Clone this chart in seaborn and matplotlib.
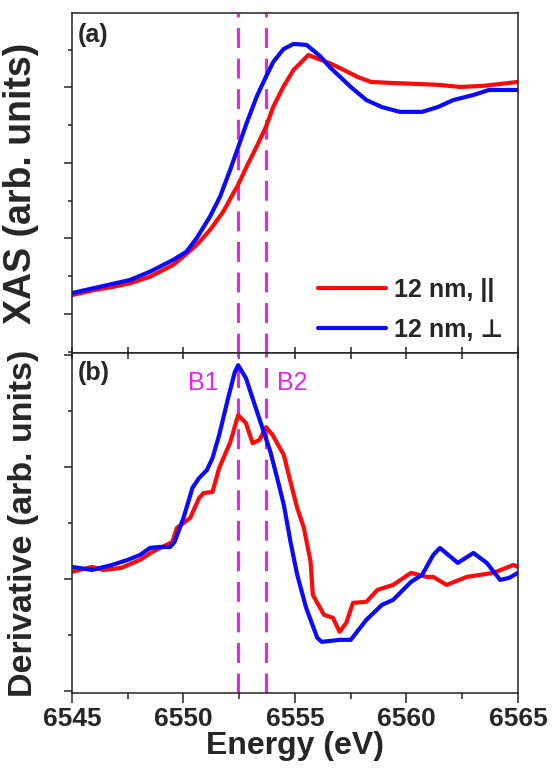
import matplotlib
matplotlib.use("Agg")
import matplotlib.pyplot as plt
from matplotlib.ticker import MultipleLocator, NullFormatter
import pandas as pd
import seaborn as sns

# ---------------- data ----------------
energy_xas_par = [6545, 6546.0, 6546.8, 6547.6, 6548.5, 6549.54, 6549.99, 6550.59, 6551.19,
                  6551.78, 6552.23, 6552.41, 6552.83, 6553.28, 6553.70, 6554.03, 6554.48,
                  6554.93, 6555.6, 6555.97, 6556.57, 6557.2, 6557.8, 6558.4, 6559.3,
                  6560.5, 6561.5, 6562.4, 6563.4, 6564.2, 6565]
xas_par = [0.075, 0.095, 0.107, 0.122, 0.148, 0.195, 0.228, 0.274, 0.334,
           0.406, 0.479, 0.506, 0.585, 0.665, 0.744, 0.824, 0.903,
           0.969, 1.029, 1.016, 0.996, 0.969, 0.942, 0.922, 0.918,
           0.914, 0.910, 0.902, 0.906, 0.914, 0.922]

energy_xas_perp = [6545, 6546.0, 6546.8, 6547.6, 6548.5, 6549.54, 6550.14, 6550.59, 6551.19,
                   6551.64, 6552.09, 6552.41, 6552.83, 6553.28, 6553.70, 6554.03, 6554.48,
                   6554.93, 6555.52, 6556.12, 6556.57, 6557.5, 6558.2, 6558.9, 6559.7,
                   6560.7, 6561.4, 6562.1, 6563.0, 6563.7, 6565]
xas_perp = [0.083, 0.103, 0.119, 0.135, 0.168, 0.215, 0.248, 0.301, 0.387,
            0.466, 0.572, 0.652, 0.758, 0.863, 0.943, 1.002, 1.052,
            1.073, 1.069, 1.025, 0.980, 0.902, 0.850, 0.822, 0.803,
            0.803, 0.822, 0.850, 0.870, 0.890, 0.890]

energy_der_par = [6545, 6545.9, 6546.4, 6547.2, 6548.05, 6548.6, 6549.5, 6549.7, 6550.3,
                  6550.7, 6550.9, 6551.3, 6551.6, 6552.1, 6552.45, 6552.8, 6553.1, 6553.4,
                  6553.7, 6554.0, 6554.5, 6554.8, 6555.1, 6555.4, 6555.7, 6555.8, 6556.3,
                  6556.7, 6557.0, 6557.3, 6557.6, 6558.2, 6558.7, 6559.4, 6560.2, 6560.9,
                  6561.2, 6561.8, 6562.7, 6563.9, 6564.8, 6565]
der_par = [0.063, 0.107, 0.080, 0.098, 0.170, 0.241, 0.330, 0.455, 0.545,
           0.723, 0.768, 0.777, 0.991, 1.223, 1.464, 1.393, 1.214, 1.241,
           1.357, 1.286, 1.107, 0.866, 0.634, 0.455, 0.152, -0.143, -0.321,
           -0.348, -0.473, -0.393, -0.214, -0.205, -0.098, -0.054, 0.054, 0.018,
           0.018, -0.054, 0.018, 0.054, 0.125, 0.107]

energy_der_perp = [6545, 6545.9, 6546.8, 6547.5, 6548.05, 6548.5, 6548.95, 6549.4, 6549.6,
                   6550.0, 6550.4, 6550.7, 6551.05, 6551.3, 6551.6, 6552.0, 6552.3, 6552.45,
                   6552.8, 6553.2, 6553.6, 6553.9, 6554.2, 6554.5, 6554.8, 6555.1, 6555.5,
                   6556.0, 6556.2, 6557.0, 6557.5, 6558.2, 6558.9, 6559.4, 6560.2, 6560.7,
                   6561.2, 6561.5, 6562.3, 6563.0, 6563.6, 6564.2, 6564.6, 6565]
der_perp = [0.107, 0.080, 0.125, 0.170, 0.214, 0.277, 0.286, 0.286, 0.330,
            0.545, 0.813, 0.902, 0.973, 1.080, 1.286, 1.616, 1.848, 1.911,
            1.795, 1.554, 1.313, 1.134, 0.902, 0.661, 0.330, 0.036, -0.259,
            -0.527, -0.563, -0.545, -0.545, -0.366, -0.232, -0.188, -0.027, 0.036,
            0.214, 0.277, 0.143, 0.232, 0.143, -0.009, 0.009, 0.054]

series_labels = ["12 nm, ||", "12 nm, \u22a5"]
series_colors = ["#FF0A0A", "#0A0AFF"]
peak_positions = [6552.45, 6553.7]
peak_labels = ["B1", "B2"]
x_ticks = [6545, 6550, 6555, 6560, 6565]

# ---------------- tables ----------------
df_xas = pd.concat([
    pd.DataFrame({"Energy": energy_xas_par, "value": xas_par, "series": series_labels[0]}),
    pd.DataFrame({"Energy": energy_xas_perp, "value": xas_perp, "series": series_labels[1]}),
])
df_der = pd.concat([
    pd.DataFrame({"Energy": energy_der_par, "value": der_par, "series": series_labels[0]}),
    pd.DataFrame({"Energy": energy_der_perp, "value": der_perp, "series": series_labels[1]}),
])

# ---------------- style ----------------
sns.set_style("ticks")
plt.rcParams["font.family"] = ["Liberation Sans", "DejaVu Sans"]
plt.rcParams["axes.linewidth"] = 1.1
plt.rcParams["axes.edgecolor"] = "#222222"

fig = plt.figure(figsize=(5.52, 7.71), dpi=100)
ax1 = fig.add_axes([0.1304, 0.5422, 0.808, 0.441])
ax2 = fig.add_axes([0.1304, 0.1012, 0.808, 0.441], sharex=ax1)

palette = dict(zip(series_labels, series_colors))

sns.lineplot(data=df_xas, x="Energy", y="value", hue="series", palette=palette,
             estimator=None, sort=True, linewidth=3, ax=ax1)
sns.lineplot(data=df_der, x="Energy", y="value", hue="series", palette=palette,
             estimator=None, sort=True, linewidth=3, ax=ax2, legend=False)

for ax in (ax1, ax2):
    for xp in peak_positions:
        ax.axvline(xp, color="#EE22EE", linewidth=2.2, dashes=(6.5, 3.5), zorder=1)

ax1.set_xlim(x_ticks[0], x_ticks[-1])
ax1.set_ylim(-0.155, 1.196)
ax2.set_ylim(-1.02, 2.02)

# ticks
for ax in (ax1, ax2):
    ax.xaxis.set_major_locator(MultipleLocator(5))
    ax.xaxis.set_minor_locator(MultipleLocator(2.5))
    ax.yaxis.set_major_formatter(NullFormatter())
    ax.tick_params(axis="y", which="major", direction="out", length=6, width=1.1, left=True)
    ax.tick_params(axis="y", which="minor", direction="out", length=3, width=1.1, left=True)

ax1.yaxis.set_major_locator(MultipleLocator(0.3))
ax1.yaxis.set_minor_locator(MultipleLocator(0.15))
ax2.yaxis.set_major_locator(MultipleLocator(1.0))
ax2.yaxis.set_minor_locator(MultipleLocator(0.5))

ax1.tick_params(axis="x", which="both", direction="in", bottom=True, top=False,
                labelbottom=False, length=4, width=1.1)
ax2.tick_params(axis="x", which="both", direction="in", top=True, bottom=False,
                labelbottom=False, length=4, width=1.1)
# outward ticks + labels on the bottom of the lower panel
sec = ax2.secondary_xaxis("bottom")
sec.set_xticks(x_ticks)
sec.xaxis.set_minor_locator(MultipleLocator(2.5))
sec.tick_params(axis="x", which="major", direction="out", length=7, width=1.1, pad=3)
sec.tick_params(axis="x", which="minor", direction="out", length=4, width=1.1)
sec.set_xticklabels([str(t) for t in x_ticks], fontsize=19, fontweight="bold")
sec.spines["bottom"].set_visible(False)

sec.set_xlabel("Energy (eV)", fontsize=23, fontweight="bold", labelpad=0)
ax1.set_xlabel("")
ax2.set_xlabel("")

ax1.set_ylabel("XAS (arb. units)", fontsize=27, fontweight="bold")
ax2.set_ylabel("Derivative (arb. units)", fontsize=24.5, fontweight="bold")
ax1.yaxis.set_label_coords(-0.075, 0.5)
ax2.yaxis.set_label_coords(-0.075, 0.5)

for ax in (ax1, ax2):
    for s in ax.spines.values():
        s.set_visible(True)

# panel tags
ax1.text(0.012, 0.935, "(a)", transform=ax1.transAxes, fontsize=18, fontweight="bold",
         ha="left", va="center")
ax2.text(0.012, 0.94, "(b)", transform=ax2.transAxes, fontsize=18, fontweight="bold",
         ha="left", va="center")

# peak labels
ax2.text(peak_positions[0] - 0.9, 0.912, peak_labels[0], transform=ax2.get_xaxis_transform(),
         fontsize=18, color="#EE22EE", ha="right", va="center")
ax2.text(peak_positions[1] + 0.5, 0.912, peak_labels[1], transform=ax2.get_xaxis_transform(),
         fontsize=18, color="#EE22EE", ha="left", va="center")

# legend
leg = ax1.legend(loc="center left", bbox_to_anchor=(0.552, 0.127), frameon=False,
                 handlelength=2.7, handletextpad=0.35, labelspacing=0.65,
                 borderpad=0, borderaxespad=0, title=None,
                 prop={"weight": "bold", "size": 18, "family": ["Liberation Sans", "DejaVu Sans"]})
for line in leg.get_lines():
    line.set_linewidth(3)

fig.savefig("out.png", dpi=100)
